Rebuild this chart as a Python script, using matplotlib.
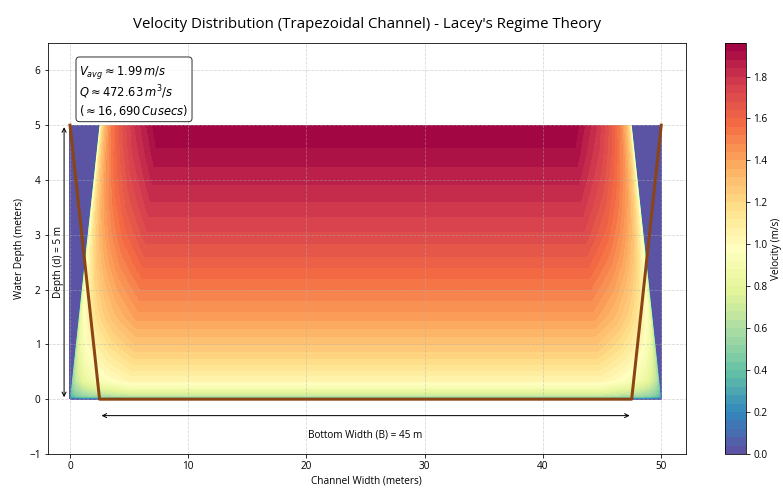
import matplotlib
matplotlib.use("Agg")
import matplotlib.pyplot as plt
import numpy as np

plt.rcParams['font.family'] = ['Open Sans', 'DejaVu Sans']

# channel geometry (Lacey regime section)
bottom_width = 45.0
depth = 5.0
side_slope = 0.5          # horizontal : vertical
top_width = bottom_width + 2 * side_slope * depth

# centre-line velocity profile (y in m, v in m/s)
depth_y = [0.0, 0.05, 0.1, 0.2, 0.35, 0.5, 0.75, 1.0, 1.5, 2.0, 2.5, 3.0, 3.5, 4.0, 4.5, 5.0]
depth_v = [0.0, 0.62, 0.74, 0.88, 1.05, 1.11, 1.20, 1.28, 1.42, 1.52, 1.62, 1.71, 1.785, 1.85, 1.91, 1.96]

# reduction factor vs distance from the wall edge
wall_dist = [0.08, 0.25, 0.5, 1.0, 1.5, 2.0, 3.0, 4.0, 5.0]
wall_factor = [0.50, 0.61, 0.68, 0.77, 0.82, 0.86, 0.92, 0.96, 1.0]

v_avg = 1.99
discharge = 472.63
cusecs = "16,690"

# trapezoid outline
outline_x = [0, side_slope * depth, side_slope * depth + bottom_width, top_width]
outline_y = [depth, 0, 0, depth]

# curvilinear grid built from the values above
X, Y, V = [], [], []
for y, v in zip(depth_y, depth_v):
    xb = side_slope * y
    left_x = [0.0, xb] + [xb + d for d in wall_dist]
    left_f = [0.0, 0.0] + wall_factor
    row_x = left_x + [top_width - x for x in left_x[::-1]]
    row_f = left_f + left_f[::-1]
    X.append(row_x)
    Y.append([y] * len(row_x))
    V.append([v * f for f in row_f])
X, Y, V = np.array(X), np.array(Y), np.array(V)

fig = plt.figure(figsize=(783 / 72, 489 / 72), dpi=72)
ax = fig.add_axes([0.0607, 0.0716, 0.8155, 0.8405])
cax = fig.add_axes([0.926, 0.0716, 0.0268, 0.8405])

cf = ax.contourf(X, Y, V, levels=50, cmap='Spectral_r')
cbar = fig.colorbar(cf, cax=cax)
cbar.set_label('Velocity (m/s)')

ax.plot(outline_x, outline_y, color='#8B4513', linewidth=3)

# depth dimension
ax.annotate('', xy=(-0.5, 0), xytext=(-0.5, depth),
            arrowprops=dict(arrowstyle='<->', color='black'))
ax.text(-1.0, depth / 2, f'Depth (d) = {depth:g} m', rotation=90,
        ha='center', va='center')

# bottom width dimension
ax.annotate('', xy=(side_slope * depth, -0.3),
            xytext=(side_slope * depth + bottom_width, -0.3),
            arrowprops=dict(arrowstyle='<->', color='black'))
ax.text(top_width / 2, -0.65, f'Bottom Width (B) = {bottom_width:g} m',
        ha='center', va='center')

info = (r'$V_{avg} \approx %.2f \, m/s$' % v_avg + '\n'
        + r'$Q \approx %.2f \, m^3/s$' % discharge + '\n'
        + r'$(\approx %s \, Cusecs)$' % cusecs)
ax.text(0.05, 0.95, info, transform=ax.transAxes, fontsize=11.5, va='top',
        bbox=dict(boxstyle='round', facecolor='white', alpha=0.8))

ax.set_xlim(-1.9, 52.1)
ax.set_ylim(-1, 6.5)
ax.set_xlabel('Channel Width (meters)')
ax.set_ylabel('Water Depth (meters)')
ax.set_title("Velocity Distribution (Trapezoidal Channel) - Lacey's Regime Theory",
             fontsize=15, pad=15)
ax.grid(True, linestyle='--', alpha=0.5)

fig.savefig('out.png', dpi=72)
